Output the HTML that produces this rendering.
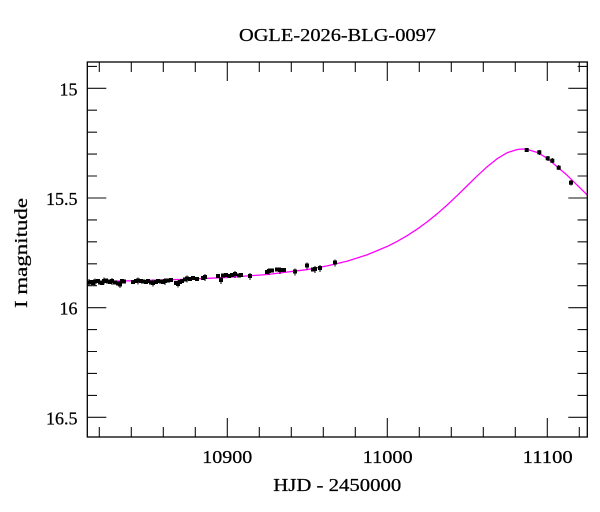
<!DOCTYPE html>
<html>
<head>
<meta charset="utf-8">
<style>
  html, body { margin: 0; padding: 0; background: #fff; }
  svg { display: block; }
  text { font-family: "Liberation Serif", serif; fill: #000; stroke: #000; stroke-width: 0.25; }
</style>
</head>
<body>
<svg width="600" height="512" viewBox="0 0 600 512" xmlns="http://www.w3.org/2000/svg">
  <rect x="0" y="0" width="600" height="512" fill="#fff"/>

  <text x="337.5" y="41" font-size="18" text-anchor="middle" textLength="197" lengthAdjust="spacingAndGlyphs">OGLE-2026-BLG-0097</text>

  <g stroke="#111" stroke-width="1.1" fill="none">
    <line x1="227.3" y1="437" x2="227.3" y2="418"/>
    <line x1="387.3" y1="437" x2="387.3" y2="418"/>
    <line x1="547.3" y1="437" x2="547.3" y2="418"/>
    <line x1="227.3" y1="62" x2="227.3" y2="81"/>
    <line x1="387.3" y1="62" x2="387.3" y2="81"/>
    <line x1="547.3" y1="62" x2="547.3" y2="81"/>
    <path d="M99.3 437V427 M131.3 437V427 M163.3 437V427 M195.3 437V427 M259.3 437V427 M291.3 437V427 M323.3 437V427 M355.3 437V427 M419.3 437V427 M451.3 437V427 M483.3 437V427 M515.3 437V427 M579.3 437V427"/>
    <path d="M99.3 62V72 M131.3 62V72 M163.3 62V72 M195.3 62V72 M259.3 62V72 M291.3 62V72 M323.3 62V72 M355.3 62V72 M419.3 62V72 M451.3 62V72 M483.3 62V72 M515.3 62V72 M579.3 62V72"/>
    <line x1="87.3" y1="88.3" x2="106.3" y2="88.3"/>
    <line x1="87.3" y1="198" x2="106.3" y2="198"/>
    <line x1="87.3" y1="307.7" x2="106.3" y2="307.7"/>
    <line x1="87.3" y1="417.3" x2="106.3" y2="417.3"/>
    <line x1="587.3" y1="88.3" x2="568.3" y2="88.3"/>
    <line x1="587.3" y1="198" x2="568.3" y2="198"/>
    <line x1="587.3" y1="307.7" x2="568.3" y2="307.7"/>
    <line x1="587.3" y1="417.3" x2="568.3" y2="417.3"/>
    <path d="M87.3 66.4H97 M87.3 110.2H97 M87.3 132.2H97 M87.3 154.1H97 M87.3 176H97 M87.3 219.9H97 M87.3 241.8H97 M87.3 263.8H97 M87.3 285.7H97 M87.3 329.6H97 M87.3 351.5H97 M87.3 373.4H97 M87.3 395.4H97"/>
    <path d="M587.3 66.4H577.6 M587.3 110.2H577.6 M587.3 132.2H577.6 M587.3 154.1H577.6 M587.3 176H577.6 M587.3 219.9H577.6 M587.3 241.8H577.6 M587.3 263.8H577.6 M587.3 285.7H577.6 M587.3 329.6H577.6 M587.3 351.5H577.6 M587.3 373.4H577.6 M587.3 395.4H577.6"/>
  </g>

  <polyline fill="none" stroke="#ff00ff" stroke-width="1.3" stroke-linejoin="round"
    points="87.3,281.42 107.3,281.21 127.3,280.84 147.3,280.42 187.3,279.26 227.3,277.45 267.3,274.49 307.3,269.55 327.3,265.88 347.3,261.07 367.3,254.72 387.3,246.41 397.3,241.33 407.3,235.58 417.3,229.07 427.3,221.78 437.3,213.69 447.3,204.88 457.3,195.43 467.3,185.62 477.3,175.81 487.3,166.58 497.3,158.6 507.3,152.66 517.3,149.47 522.5,149.02 527.3,149.4 537.3,152.48 547.3,158.32 567.3,175.43 587.3,195.08"/>

  <g fill="#000" stroke="none">
    <rect x="87" y="280.5" width="4" height="4"/>
    <rect x="89" y="280" width="4" height="4"/>
    <rect x="91" y="281" width="4" height="4"/>
    <rect x="93" y="279.5" width="4" height="4"/>
    <rect x="96" y="279" width="4" height="4"/>
    <rect x="98" y="280.5" width="4" height="4"/>
    <rect x="100" y="281" width="4" height="4"/>
    <rect x="102" y="279" width="4" height="4"/>
    <rect x="104" y="278.5" width="4" height="4"/>
    <rect x="106" y="279.5" width="4" height="4"/>
    <rect x="108" y="280" width="4" height="4"/>
    <rect x="110" y="279" width="4" height="4"/>
    <rect x="113" y="280.5" width="4" height="4"/>
    <rect x="116" y="281.5" width="4" height="4"/>
    <rect x="118" y="282.5" width="4" height="4"/>
    <rect x="120" y="279" width="4" height="4"/>
    <rect x="122" y="279.5" width="4" height="4"/>
    <rect x="131" y="280" width="4" height="4"/>
    <rect x="134" y="279" width="4" height="4"/>
    <rect x="136" y="278.5" width="4" height="4"/>
    <rect x="139" y="279" width="4" height="4"/>
    <rect x="141" y="279.5" width="4" height="4"/>
    <rect x="144" y="280" width="4" height="4"/>
    <rect x="146" y="279" width="4" height="4"/>
    <rect x="149" y="280.5" width="4" height="4"/>
    <rect x="151" y="281" width="4" height="4"/>
    <rect x="154" y="280" width="4" height="4"/>
    <rect x="156" y="279" width="4" height="4"/>
    <rect x="159" y="279.5" width="4" height="4"/>
    <rect x="161" y="280" width="4" height="4"/>
    <rect x="163" y="279" width="4" height="4"/>
    <rect x="166" y="278.5" width="4" height="4"/>
    <rect x="169" y="278" width="4" height="4"/>
    <rect x="174" y="281" width="4" height="4"/>
    <rect x="176" y="282" width="4" height="4"/>
    <rect x="178" y="280" width="4" height="4"/>
    <rect x="180" y="279" width="4" height="4"/>
    <rect x="183" y="277.5" width="4" height="4"/>
    <rect x="185" y="276.5" width="4" height="4"/>
    <rect x="188" y="277" width="4" height="4"/>
    <rect x="191" y="276" width="4" height="4"/>
    <rect x="195" y="277" width="4" height="4"/>
    <rect x="201" y="276" width="4" height="4"/>
    <rect x="203" y="275" width="4" height="4"/>
    <rect x="216" y="274" width="4" height="4"/>
    <rect x="219" y="278" width="4" height="4"/>
    <rect x="221" y="273.5" width="4" height="4"/>
    <rect x="224" y="273" width="4" height="4"/>
    <rect x="227" y="274" width="4" height="4"/>
    <rect x="230" y="273" width="4" height="4"/>
    <rect x="233" y="272" width="4" height="4"/>
    <rect x="237" y="273.5" width="4" height="4"/>
    <rect x="239" y="273" width="4" height="4"/>
    <rect x="248" y="274" width="4" height="4"/>
    <rect x="265" y="270" width="4" height="4"/>
    <rect x="267" y="269" width="4" height="4"/>
    <rect x="270" y="268.5" width="4" height="4"/>
    <rect x="275" y="267.5" width="4" height="4"/>
    <rect x="278" y="268" width="4" height="4"/>
    <rect x="282" y="268" width="4" height="4"/>
    <rect x="293" y="269.5" width="4" height="4"/>
    <rect x="305" y="263.5" width="4" height="4"/>
    <rect x="311" y="267.5" width="4" height="4"/>
    <rect x="313" y="267" width="4" height="4"/>
    <rect x="318" y="266" width="4" height="4"/>
    <rect x="333" y="260.5" width="4" height="4"/>
    <rect x="524.7" y="148" width="4" height="4"/>
    <rect x="537.3" y="150.3" width="4" height="4"/>
    <rect x="545.7" y="156.3" width="4" height="4"/>
    <rect x="550.3" y="158.7" width="4" height="4"/>
    <rect x="556.7" y="165.7" width="4" height="4"/>
    <rect x="569" y="180.7" width="4" height="4"/>
  </g>
  <g stroke="#000" stroke-width="1" fill="none">
    <path d="M89 279V286 M95 278.5V285.5 M104 277.5V284.5 M112 278V285 M120 281V288 M138 277.5V284.5 M153 279.5V286.5 M165 278V285 M178 280.5V287.5 M187 275.5V282.5 M205 274V281 M221 277V284 M235 271V278 M250 273V280 M269 268V275 M280 267V274 M295 268.5V275.5 M307 262.5V269.5 M315 266V273 M320 265V272 M335 259.5V266.5 M526.7 148V152 M539.3 150V155 M548 156V161 M552.3 158V163 M558.7 165V170 M571 180V185.5"/>
  </g>

  <rect x="87.3" y="62" width="500" height="375" fill="none" stroke="#000" stroke-width="1.3"/>

  <text x="77.5" y="95.3" font-size="18" text-anchor="end">15</text>
  <text x="77.5" y="205" font-size="18" text-anchor="end">15.5</text>
  <text x="77.5" y="314.7" font-size="18" text-anchor="end">16</text>
  <text x="77.5" y="424.3" font-size="18" text-anchor="end">16.5</text>

  <text x="227.3" y="463" font-size="18" text-anchor="middle" textLength="50" lengthAdjust="spacingAndGlyphs">10900</text>
  <text x="387.7" y="463" font-size="18" text-anchor="middle" textLength="50" lengthAdjust="spacingAndGlyphs">11000</text>
  <text x="547.7" y="463" font-size="18" text-anchor="middle" textLength="50" lengthAdjust="spacingAndGlyphs">11100</text>

  <text x="337.3" y="491" font-size="18" text-anchor="middle" textLength="128" lengthAdjust="spacingAndGlyphs">HJD - 2450000</text>
  <text transform="translate(27,253) rotate(-90)" x="0" y="0" font-size="18" text-anchor="middle" textLength="110" lengthAdjust="spacingAndGlyphs">I magnitude</text>
</svg>
</body>
</html>
